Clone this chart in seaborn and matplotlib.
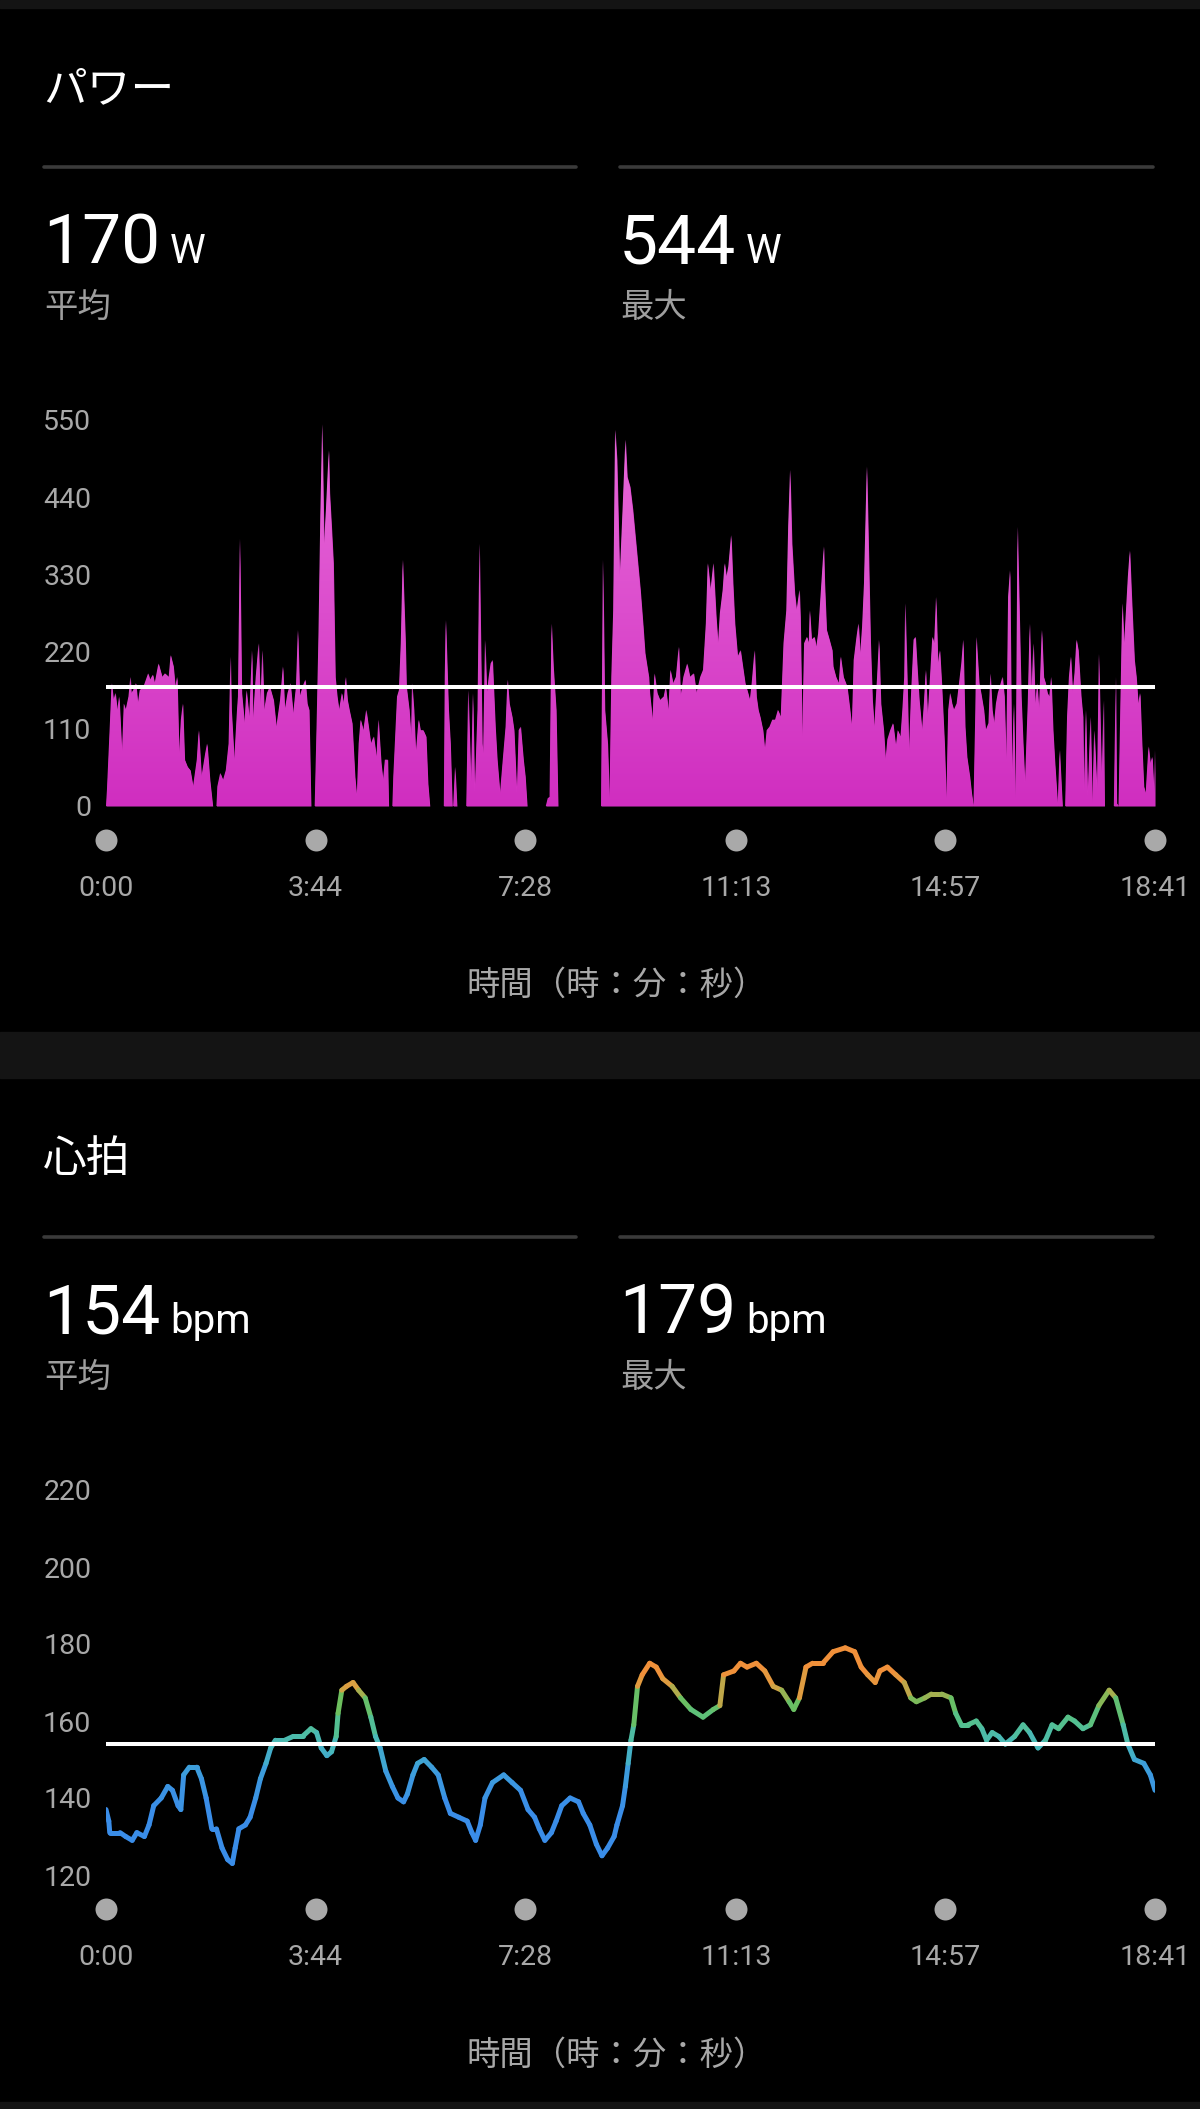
import numpy as np
import matplotlib
matplotlib.use("Agg")
import matplotlib.pyplot as plt
import seaborn as sns
from matplotlib.collections import LineCollection
from matplotlib.colors import LinearSegmentedColormap, Normalize
from matplotlib.patches import Rectangle
from matplotlib.lines import Line2D

# --- datos ---
# potencia (segundos, vatios)
power_t = [
    0, 1, 4, 6, 8, 10, 12, 14, 17, 19,
    21, 24, 26, 27, 29, 32, 34, 36, 40, 45,
    47, 50, 52, 56, 60, 63, 67, 69, 72, 74,
    76, 78, 80, 82, 84, 87, 90, 93, 97, 99,
    102, 106, 108, 111, 114, 118, 119, 122, 125, 128,
    131, 133, 134, 137, 140, 141, 143, 145, 148, 150,
    153, 156, 157, 160, 163, 165, 167, 169, 172, 175,
    179, 182, 186, 189, 191, 194, 197, 200, 203, 205,
    207, 210, 213, 215, 217, 219, 223, 225, 227, 229,
    231, 233, 235, 238, 239, 241, 243, 245, 247, 249,
    252, 254, 256, 258, 260, 263, 266, 268, 270, 272,
    275, 278, 280, 283, 286, 289, 291, 294, 296, 298,
    301, 302, 306, 307, 311, 313, 315, 317, 320, 321,
    324, 326, 327, 329, 331, 334, 336, 339, 342, 344,
    346, 361, 362, 363, 366, 368, 370, 371, 373, 375,
    385, 387, 390, 392, 394, 397, 399, 402, 403, 405,
    407, 409, 411, 413, 416, 418, 421, 424, 427, 429,
    431, 434, 436, 439, 441, 443, 446, 448, 450, 470,
    472, 474, 476, 478, 481, 483, 529, 531, 533, 536,
    538, 540, 542, 544, 546, 549, 552, 555, 557, 560,
    563, 567, 571, 574, 576, 580, 581, 584, 586, 589,
    592, 596, 598, 601, 603, 606, 609, 612, 614, 617,
    621, 624, 628, 631, 635, 638, 641, 643, 646, 649,
    652, 654, 656, 659, 661, 663, 665, 668, 670, 672,
    675, 678, 680, 683, 686, 688, 690, 693, 695, 697,
    699, 702, 704, 706, 709, 712, 715, 718, 721, 724,
    727, 729, 731, 733, 736, 738, 741, 742, 744, 746,
    749, 751, 752, 754, 757, 759, 761, 764, 767, 768,
    770, 773, 776, 777, 780, 783, 785, 788, 792, 795,
    797, 799, 802, 804, 806, 808, 810, 813, 815, 817,
    819, 821, 824, 826, 828, 831, 833, 835, 838, 841,
    844, 846, 849, 851, 853, 854, 856, 858, 860, 863,
    865, 867, 869, 872, 874, 876, 878, 881, 883, 885,
    887, 889, 891, 893, 896, 898, 900, 902, 904, 906,
    909, 912, 914, 916, 918, 920, 923, 925, 927, 929,
    930, 933, 935, 938, 940, 943, 945, 947, 949, 951,
    953, 955, 958, 960, 962, 964, 966, 968, 970, 972,
    974, 976, 978, 980, 982, 985, 987, 989, 991, 993,
    995, 997, 1000, 1002, 1004, 1006, 1008, 1010, 1012, 1014,
    1017, 1019, 1022, 1025, 1027, 1029, 1031, 1033, 1035, 1037,
    1039, 1042, 1044, 1045, 1047, 1049, 1052, 1054, 1056, 1059,
    1061, 1063, 1064, 1066, 1067, 1077, 1079, 1080, 1082, 1084,
    1086, 1088, 1090, 1092, 1094, 1096, 1099, 1101, 1103, 1105,
    1107, 1109, 1111, 1114, 1116, 1118, 1120, 1121,
]
power_w = [
    0, 23, 113, 175, 151, 161, 137, 156, 75, 146,
    137, 156, 184, 161, 165, 175, 146, 165, 170, 189,
    180, 187, 175, 203, 184, 189, 184, 215, 199, 170,
    184, 75, 123, 146, 66, 56, 51, 28, 66, 108,
    42, 75, 89, 37, 0, 0, 28, 47, 37, 51,
    89, 213, 137, 66, 137, 156, 381, 161, 118, 165,
    127, 222, 123, 184, 232, 146, 222, 137, 161, 170,
    151, 113, 151, 199, 137, 161, 175, 132, 170, 251,
    156, 170, 180, 146, 137, 0, 0, 113, 241, 412,
    544, 374, 422, 507, 446, 398, 346, 184, 156, 137,
    161, 146, 184, 151, 137, 118, 42, 13, 89, 123,
    108, 137, 118, 89, 99, 70, 123, 61, 37, 66,
    66, 0, 0, 42, 156, 165, 232, 351, 232, 170,
    137, 99, 175, 137, 75, 123, 108, 108, 99, 32,
    0, 0, 184, 265, 137, 89, 0, 0, 56, 0,
    0, 165, 32, 161, 18, 137, 374, 89, 75, 237,
    161, 184, 203, 208, 113, 66, 18, 66, 113, 180,
    146, 127, 108, 18, 108, 113, 66, 42, 0, 0,
    11, 13, 260, 199, 137, 0, 0, 351, 137, 89,
    9, 184, 279, 536, 493, 327, 422, 522, 469, 455,
    422, 365, 308, 256, 218, 184, 161, 123, 189, 161,
    151, 156, 170, 137, 194, 175, 184, 227, 156, 184,
    203, 184, 189, 161, 184, 194, 260, 346, 308, 346,
    270, 232, 275, 308, 346, 327, 341, 386, 317, 260,
    213, 222, 203, 175, 161, 151, 175, 222, 156, 137,
    127, 108, 80, 108, 113, 123, 123, 137, 127, 232,
    279, 398, 479, 374, 303, 279, 308, 269, 99, 232,
    241, 232, 279, 237, 241, 227, 246, 308, 370, 317,
    251, 237, 222, 199, 184, 175, 213, 184, 170, 137,
    113, 208, 241, 260, 218, 256, 317, 484, 360, 232,
    151, 113, 184, 237, 146, 108, 66, 95, 108, 118,
    85, 108, 99, 137, 184, 289, 189, 75, 151, 237,
    241, 194, 151, 108, 146, 194, 127, 194, 241, 232,
    298, 203, 222, 175, 89, 9, 137, 161, 146, 137,
    146, 180, 203, 237, 113, 70, 42, 18, 0, 137,
    241, 175, 161, 137, 108, 118, 189, 137, 118, 146,
    161, 170, 184, 156, 66, 298, 336, 42, 146, 4,
    398, 279, 156, 89, 32, 146, 260, 161, 232, 146,
    175, 137, 251, 184, 175, 161, 156, 184, 108, 61,
    0, 80, 0, 0, 127, 184, 213, 161, 190, 237,
    222, 156, 127, 18, 137, 13, 127, 4, 108, 23,
    217, 89, 37, 151, 0, 0, 184, 4, 0, 146,
    289, 232, 279, 327, 364, 298, 208, 184, 146, 161,
    89, 28, 18, 85, 61, 70, 18, 80,
]
power_avg = 170
power_max = 544
power_ticks = [0, 110, 220, 330, 440, 550]

# frecuencia cardiaca (segundos, bpm)
hr_t = [
    0, 3, 4, 8, 15, 21, 28, 33, 41, 46,
    51, 59, 66, 71, 77, 80, 83, 89, 97, 102,
    107, 113, 118, 124, 130, 135, 138, 142, 149, 154,
    160, 165, 171, 176, 181, 191, 200, 210, 219, 225,
    230, 236, 241, 246, 248, 252, 257, 264, 270, 277,
    283, 288, 293, 299, 306, 312, 318, 322, 328, 333,
    340, 348, 355, 362, 368, 377, 386, 391, 395, 400,
    405, 413, 425, 434, 443, 451, 458, 463, 469, 476,
    481, 487, 496, 505, 510, 517, 524, 530, 536, 543,
    546, 552, 555, 558, 561, 564, 568, 573, 581, 588,
    595, 605, 614, 625, 638, 649, 656, 660, 671, 678,
    685, 695, 704, 713, 722, 730, 735, 741, 748, 755,
    766, 777, 790, 800, 807, 814, 822, 827, 835, 844,
    853, 860, 866, 875, 882, 893, 903, 908, 914, 921,
    930, 936, 941, 947, 954, 961, 971, 980, 987, 996,
    1004, 1011, 1018, 1028, 1035, 1044, 1052, 1061, 1072, 1079,
    1087, 1092, 1099, 1109, 1116, 1121,
]
hr_bpm = [
    137, 134, 131, 131, 131, 130, 129, 131, 130, 133,
    138, 140, 143, 142, 138, 137, 146, 148, 148, 145,
    140, 132, 132, 127, 124, 123, 127, 132, 133, 135,
    140, 145, 149, 153, 155, 155, 156, 156, 158, 157,
    153, 151, 152, 156, 162, 168, 169, 170, 168, 166,
    161, 156, 153, 147, 143, 140, 139, 141, 146, 149,
    150, 148, 146, 140, 136, 135, 134, 131, 129, 133,
    140, 144, 146, 144, 142, 137, 135, 132, 129, 131,
    134, 138, 140, 139, 136, 133, 128, 125, 127, 130,
    133, 138, 143, 149, 155, 159, 169, 172, 175, 174,
    171, 169, 166, 163, 161, 163, 164, 172, 173, 175,
    174, 175, 173, 169, 168, 165, 163, 166, 174, 175,
    175, 178, 179, 178, 174, 172, 170, 173, 174, 172,
    170, 166, 165, 166, 167, 167, 166, 162, 159, 159,
    160, 158, 155, 157, 156, 154, 156, 159, 157, 153,
    155, 159, 158, 161, 160, 158, 159, 164, 168, 166,
    159, 154, 150, 149, 146, 142,
]
hr_avg = 154
hr_max = 179
hr_ticks = [120, 140, 160, 180, 200, 220]

# eje de tiempo
time_ticks = [0, 224, 448, 673, 897, 1121]
time_labels = ['0:00', '3:44', '7:28', '11:13', '14:57', '18:41']

# colores de zona del pulso
hr_levels = [138, 148, 154, 160, 165, 169, 173]
hr_palette = ['#3a8de8', '#3d9fda', '#48b8bc', '#55c08a', '#6cbf5e', '#d9a042', '#f0903a']

# --- estilo ---
sns.set_theme(style="dark", rc={"axes.facecolor": "black", "figure.facecolor": "black"})
plt.rcParams['font.family'] = ['Roboto', 'Noto Sans CJK JP', 'DejaVu Sans']

W, H = 1200, 2109
fig = plt.figure(figsize=(W / 100, H / 100), dpi=100, facecolor='black')
renderer = fig.canvas.get_renderer()
GREY = '#a8a8a8'


def fx(px):
    return px / W


def fy(py):
    return 1 - py / H


# bandas grises entre tarjetas
for top, bottom in [(0, 8), (1032, 1078), (2102, 2109)]:
    fig.patches.append(Rectangle((0, fy(bottom)), 1, (bottom - top) / H,
                                 transform=fig.transFigure, color='#141414', zorder=0))


def cabecera(dy, titulo, media, maximo, unidad):
    fig.text(fx(43), fy(90 + dy), titulo, fontsize=31.5, color='white', va='center')
    for x0, x1 in [(44, 576), (620, 1153)]:
        fig.add_artist(Line2D([fx(x0), fx(x1)], [fy(167 + dy)] * 2, color='#3a3a3a', lw=2.6))
    for x0, valor, etiqueta in [(43, media, '平均'), (619, maximo, '最大')]:
        t = fig.text(fx(x0), fy(263 + dy), str(valor), fontsize=50, color='white', va='baseline')
        bb = t.get_window_extent(renderer=renderer)
        fig.text(fx(bb.x1 + 10), fy(263 + dy), unidad, fontsize=29, color='white', va='baseline')
        fig.text(fx(x0 + 1), fy(308 + dy), etiqueta, fontsize=24, color='#9e9e9e', va='center')
    fig.text(fx(617), fy(986 + dy), '時間（時：分：秒）', fontsize=24, color=GREY,
             ha='center', va='center')


def eje_tiempo(ax, alto_px):
    trans = ax.get_xaxis_transform()
    sns.scatterplot(x=time_ticks, y=[-34 / alto_px] * len(time_ticks), ax=ax, s=250,
                    color='#a9a9a9', linewidth=0, transform=trans, clip_on=False, zorder=5)
    for t, lab in zip(time_ticks, time_labels):
        ax.text(t, -90 / alto_px, lab, transform=trans, ha='center', va='baseline',
                fontsize=20.5, color=GREY, clip_on=False)
    ax.set_xticks([])
    ax.set_xlim(0, 1121)
    ax.set_xlabel('')
    ax.set_ylabel('')
    ax.grid(False)
    sns.despine(ax=ax, left=True, bottom=True)
    ax.tick_params(axis='y', length=0, pad=10.5, labelsize=20.5, labelcolor=GREY)


# --- パワー ---
cabecera(0, 'パワー', power_avg, power_max, 'W')
ax1 = fig.add_axes([fx(106), fy(806), 1049 / W, 386 / H])
fill = ax1.fill_between(power_t, power_w, 0, color='#d838c8', lw=0)
grad = LinearSegmentedColormap.from_list('pw', ['#d02ec0', '#e86cda'])
im = ax1.imshow(np.linspace(0, 1, 256).reshape(-1, 1), extent=[0, 1121, 0, 550],
                origin='lower', aspect='auto', cmap=grad, zorder=2)
im.set_clip_path(fill.get_paths()[0], transform=ax1.transData)
ax1.axhline(power_avg, color='white', lw=2.9, zorder=4)
ax1.set_ylim(0, 550)
ax1.set_yticks(power_ticks)
ax1.set_yticklabels([str(v) for v in power_ticks])
eje_tiempo(ax1, 386)

# --- 心拍 ---
cabecera(1070, '心拍', hr_avg, hr_max, 'bpm')
ax2 = fig.add_axes([fx(106), fy(1875), 1049 / W, 385 / H])
cmap = LinearSegmentedColormap.from_list(
    'hr', list(zip((np.array(hr_levels) - hr_levels[0]) / (hr_levels[-1] - hr_levels[0]), hr_palette)))
norm = Normalize(hr_levels[0], hr_levels[-1], clip=True)
pts = np.column_stack([hr_t, hr_bpm]).astype(float)
segs = np.stack([pts[:-1], pts[1:]], axis=1)
mid = (pts[:-1, 1] + pts[1:, 1]) / 2
lc = LineCollection(segs, colors=cmap(norm(mid)), linewidths=3.6, capstyle='round',
                    joinstyle='round', zorder=3)
ax2.add_collection(lc)
ax2.axhline(hr_avg, color='white', lw=2.9, zorder=4)
ax2.set_ylim(120, 220)
ax2.set_yticks(hr_ticks)
ax2.set_yticklabels([str(v) for v in hr_ticks])
eje_tiempo(ax2, 385)

fig.savefig('out.png', dpi=100, facecolor='black')
